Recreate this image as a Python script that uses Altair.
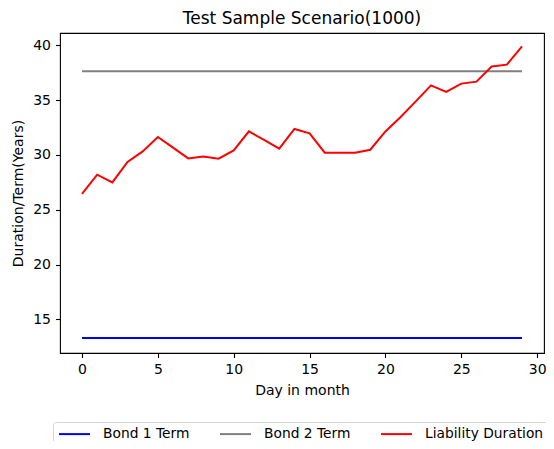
import altair as alt
import pandas as pd

days = list(range(30))
liability = [26.44, 28.20, 27.50, 29.36, 30.33, 31.64, 30.67, 29.69, 29.87, 29.66,
             30.42, 32.15, 31.37, 30.57, 32.37, 31.97, 30.21, 30.21, 30.21, 30.48,
             32.15, 33.47, 34.89, 36.35, 35.75, 36.51, 36.69, 38.08, 38.24, 39.91]
bond1_term = 13.30
bond2_term = 37.63
series_names = ["Bond 1 Term", "Bond 2 Term", "Liability Duration"]
series_colors = ["#0000ff", "#808080", "#ff0000"]
x_ticks = [0, 5, 10, 15, 20, 25, 30]
y_ticks = [15, 20, 25, 30, 35, 40]

rows = []
for d in days:
    rows.append({"day": d, "value": bond1_term, "series": series_names[0]})
for d in days:
    rows.append({"day": d, "value": bond2_term, "series": series_names[1]})
for d, v in zip(days, liability):
    rows.append({"day": d, "value": v, "series": series_names[2]})
df = pd.DataFrame(rows)

FONT = "DejaVu Sans"

chart = alt.Chart(df).mark_line(strokeWidth=2).encode(
    x=alt.X("day:Q", title="Day in month",
            scale=alt.Scale(domain=[-1.45, 30.45], nice=False, zero=False),
            axis=alt.Axis(values=x_ticks, format="d", titlePadding=7)),
    y=alt.Y("value:Q", title="Duration/Term(Years)",
            scale=alt.Scale(domain=[11.93, 41.13], nice=False, zero=False),
            axis=alt.Axis(values=y_ticks, format="d", titlePadding=7)),
    color=alt.Color("series:N",
                    scale=alt.Scale(domain=series_names, range=series_colors),
                    legend=alt.Legend(orient="none", legendX=-7, legendY=389,
                                      direction="horizontal", title=None,
                                      symbolType="M-1,0H4.1667", symbolSize=144,
                                      symbolStrokeWidth=2, labelFontSize=13.8,
                                      labelFont=FONT, labelColor="black",
                                      labelOffset=31, columnPadding=26,
                                      padding=5, strokeColor="#d6d6d6",
                                      fillColor="white", cornerRadius=3)),
    detail="series:N",
).properties(
    width=484, height=320,
    title=alt.TitleParams("Test Sample Scenario(1000)", fontSize=17, font=FONT,
                          fontWeight="normal", color="black", anchor="middle", offset=5),
    autosize=alt.AutoSizeParams(type="none"),
    padding={"left": 52, "top": 25, "right": 2, "bottom": 88},
).configure_view(
    stroke="black", strokeWidth=1.1
).configure_axis(
    grid=False, domain=False, tickColor="black", tickSize=4.5, tickWidth=1.1,
    labelFont=FONT, labelFontSize=14, labelColor="black", labelPadding=5,
    titleFont=FONT, titleFontSize=14, titleFontWeight="normal", titleColor="black",
)

chart.save("out.html", embed_options={"renderer": "svg", "actions": False})
